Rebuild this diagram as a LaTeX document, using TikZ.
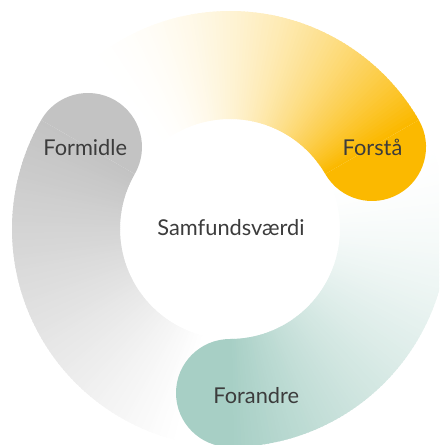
\documentclass[tikz,border=0pt]{standalone}
\usepackage{fontspec}
\setmainfont{Lato}
\usetikzlibrary{positioning}

\definecolor{ora}{HTML}{FBB900}
\definecolor{grn}{HTML}{A7CFC5}
\definecolor{gry}{HTML}{C3C3C3}
\definecolor{ink}{HTML}{3C3C3C}

\tikzstyle{lbl}=[text=ink, font=\fontsize{15.5}{18}\selectfont, inner sep=0pt, anchor=base]

\begin{document}
\begin{tikzpicture}[x=0.025cm,y=0.025cm]
\clip (-230,-216) rectangle (209,229);

% band bodies: inner radius 110, outer 218, colour fades along the arc
\foreach \st/\col/\len/\k in {30/ora/100/2, 270/grn/112/1.5, 150/gry/105/1}
  \foreach \a in {0,...,118} {
    \pgfmathsetmacro{\s}{\st+\a}
    \pgfmathsetmacro{\e}{\st+\a+1.4}
    \pgfmathsetmacro{\p}{100*max(0.0001,1-\a/\len)^\k}
    \fill[\col!\p] (\s:110) arc[start angle=\s, end angle=\e, radius=110] -- (\e:218) arc[start angle=\e, end angle=\s, radius=218] -- cycle;
  }

% round caps
\fill[ora] (30:218) arc[start angle=30, end angle=-150, radius=54] -- cycle;
\fill[grn] (270:218) arc[start angle=270, end angle=90, radius=54] -- cycle;
\fill[gry] (150:218) arc[start angle=150, end angle=-30, radius=54] -- cycle;

\node[lbl] at (1,-7) (core) {Samfundsværdi};
\node[lbl] at (142.5,73) (forstaa) {Forstå};
\node[lbl] at (-144.8,73) (formidle) {Formidle};
\node[lbl] at (26.3,-174.3) (forandre) {Forandre};
\end{tikzpicture}
\end{document}
